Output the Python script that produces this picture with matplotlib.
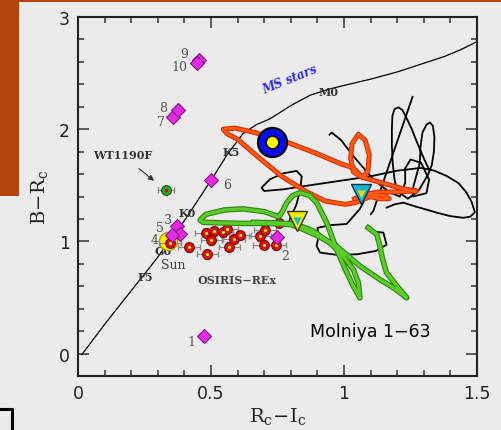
import matplotlib
matplotlib.use("Agg")
import matplotlib.pyplot as plt
import matplotlib.patheffects as pe
from matplotlib.patches import Rectangle
from matplotlib.lines import Line2D
from matplotlib.ticker import MultipleLocator

plt.rcParams["mathtext.fontset"] = "dejavuserif"

# ---------------- data ----------------
ms_x = [0.014, 0.10, 0.20, 0.254, 0.30, 0.333, 0.37, 0.41, 0.46, 0.51, 0.56, 0.62, 0.67, 0.72, 0.80, 0.87, 0.94, 1.00, 1.10, 1.20, 1.29, 1.38, 1.44, 1.50]
ms_y = [-0.01, 0.26, 0.56, 0.72, 0.86, 0.97, 1.08, 1.22, 1.40, 1.58, 1.77, 1.96, 2.04, 2.09, 2.21, 2.30, 2.355, 2.39, 2.446, 2.51, 2.58, 2.65, 2.71, 2.78]

spec_labels = ["F5", "G0", "K0", "K5", "M0"]
spec_x = [0.254, 0.321, 0.412, 0.575, 0.941]
spec_y = [0.69, 0.92, 1.256, 1.80, 2.34]

diam_x = [0.475, 0.747, 0.373, 0.383, 0.352, 0.499, 0.358, 0.375, 0.455, 0.446]
diam_y = [0.155, 1.042, 1.137, 1.063, 1.054, 1.545, 2.110, 2.173, 2.616, 2.589]
diam_labels = ["1", "2", "3", "4", "5", "6", "7", "8", "9", "10"]
diam_lab_x = [0.427, 0.778, 0.340, 0.289, 0.308, 0.559, 0.312, 0.321, 0.400, 0.383]
diam_lab_y = [0.110, 0.870, 1.196, 1.020, 1.120, 1.509, 2.065, 2.190, 2.675, 2.556]

osiris_x = [0.346, 0.417, 0.480, 0.511, 0.501, 0.486, 0.544, 0.561, 0.569, 0.586, 0.609, 0.684, 0.703, 0.699, 0.743, 0.757]
osiris_y = [0.988, 0.949, 1.078, 1.089, 1.012, 0.884, 1.080, 1.113, 0.953, 1.024, 1.056, 1.047, 1.101, 0.971, 0.964, 1.167]

sun_x, sun_y = [0.340], [1.003]
wt_x, wt_y = [0.330], [1.455]
blue_x, blue_y = [0.728], [1.887]
tri_yellow_x, tri_yellow_y = [0.822], [1.18]
tri_cyan_x, tri_cyan_y = [1.063], [1.426]

green_x = [1.091, 1.123, 1.135, 1.145, 1.16, 1.20, 1.236, 1.19, 1.135, 1.06, 0.972, 0.90, 0.847, 0.80, 0.72, 0.62, 0.534, 0.47, 0.459,
           0.48, 0.55, 0.62, 0.70, 0.755, 0.766, 0.785, 0.808, 0.835, 0.87, 0.897, 0.935, 0.972, 1.005, 1.035, 1.06,
           1.054, 1.035, 0.997, 0.947, 0.885, 0.822, 0.75, 0.66]
green_y = [1.122, 1.063, 0.958, 0.84, 0.72, 0.60, 0.497, 0.58, 0.66, 0.78, 0.958, 1.05, 1.107, 1.15, 1.16, 1.16, 1.165, 1.17, 1.19,
           1.24, 1.28, 1.29, 1.265, 1.22, 1.256, 1.345, 1.41, 1.434, 1.41, 1.345, 1.167, 0.93, 0.75, 0.60, 0.497,
           0.631, 0.75, 0.869, 0.988, 1.092, 1.152, 1.165, 1.17]

orange_x = [1.04, 1.08, 1.13, 1.18, 1.23, 1.273, 1.22, 1.16, 1.10, 1.06, 1.035, 1.025, 1.03, 1.054, 1.08, 1.095, 1.09, 1.07, 1.035,
            0.99, 0.89, 0.79, 0.665, 0.59, 0.546, 0.56, 0.60, 0.678, 0.766, 0.853, 0.929, 1.004, 1.041, 1.073, 1.11, 1.15, 1.17, 1.13, 1.10]
orange_y = [1.38, 1.42, 1.44, 1.44, 1.445, 1.449, 1.47, 1.51, 1.55, 1.58, 1.62, 1.74, 1.87, 1.955, 1.90, 1.77, 1.63, 1.57, 1.655,
            1.69, 1.79, 1.88, 1.97, 2.01, 2.00, 1.96, 1.91, 1.75, 1.58, 1.45, 1.36, 1.33, 1.345, 1.375, 1.41, 1.41, 1.38, 1.38, 1.40]

black1_x = [1.085, 1.06, 1.01, 0.95, 0.90, 0.905, 0.897, 0.91, 0.972, 1.05, 1.12, 1.16, 1.148, 1.10]
black1_y = [1.405, 1.29, 1.155, 1.145, 1.12, 1.05, 0.96, 0.90, 0.88, 0.885, 0.915, 0.97, 1.078, 1.09]
black2_x = [0.79, 0.80, 0.82, 0.835, 0.841, 0.822, 0.772, 0.722, 0.69, 0.70, 0.772, 0.897, 1.00, 1.10, 1.20, 1.29, 1.34, 1.386, 1.43,
            1.461, 1.48, 1.492, 1.475, 1.449, 1.40, 1.349, 1.30, 1.27, 1.223, 1.19, 1.16]
black2_y = [1.15, 1.22, 1.32, 1.45, 1.58, 1.628, 1.607, 1.554, 1.479, 1.449, 1.464, 1.509, 1.545, 1.58, 1.63, 1.655, 1.63, 1.583, 1.52,
            1.434, 1.35, 1.26, 1.22, 1.21, 1.225, 1.256, 1.29, 1.31, 1.345, 1.33, 1.30]
black3_x = [0.945, 0.954, 0.99, 1.035, 1.11, 1.173, 1.21, 1.23, 1.23, 1.25, 1.29, 1.32, 1.31, 1.26, 1.26,
            1.285, 1.288, 1.295, 1.31, 1.323, 1.334, 1.34, 1.338, 1.33, 1.317, 1.28, 1.24, 1.20,
            1.19, 1.183, 1.18, 1.18, 1.182, 1.19, 1.205, 1.22, 1.235, 1.255, 1.275, 1.30, 1.32]
black3_y = [1.95, 1.97, 1.90, 1.76, 1.554, 1.434, 1.40, 1.52, 1.65, 1.73, 1.70, 1.55, 1.43, 1.40, 1.48,
            1.70, 1.85, 1.97, 2.04, 2.06, 2.03, 1.93, 1.80, 1.68, 1.60, 1.45, 1.38, 1.45,
            1.55, 1.70, 1.85, 2.00, 2.12, 2.18, 2.195, 2.17, 2.10, 2.00, 1.88, 1.74, 1.64]
black4_x = [1.258, 1.11, 1.10]
black4_y = [2.29, 1.27, 1.24]

# ---------------- figure ----------------
BG = "#ebebeb"
fig = plt.figure(figsize=(5.02, 4.31), dpi=100, facecolor=BG)
ax = fig.add_axes([78 / 502, 1 - 377 / 431, 399 / 502, 359 / 431], facecolor=BG)

# decorations outside the plot
fig.patches.append(Rectangle((0, 1 - 197 / 431), 19 / 502, 197 / 431, transform=fig.transFigure,
                             facecolor="#b4460c", edgecolor="none", zorder=0))
fig.patches.append(Rectangle((0, 1 - 2.5 / 431), 1, 2.5 / 431, transform=fig.transFigure,
                             facecolor="#b4460c", edgecolor="none", zorder=0))
fig.lines.append(Line2D([0, 12 / 502, 12 / 502], [1 - 410 / 431, 1 - 410 / 431, 0], transform=fig.transFigure,
                        color="black", lw=2.2))

ax.set_xlim(0, 1.5)
ax.set_ylim(-0.2, 3.0)

# MS line
ax.plot(ms_x, ms_y, color="black", lw=0.9, zorder=2)
for t, x, y in zip(spec_labels, spec_x, spec_y):
    ax.text(x, y, t, fontsize=8, family="DejaVu Serif", fontweight="bold", color="#333333",
            ha="center", va="center", zorder=2.5)
ax.text(0.797, 2.446, "MS stars", fontsize=8.5, family="DejaVu Serif", fontweight="bold", style="italic",
        color="#2a2aff", rotation=22, ha="center", va="center")

# scribble curves
for bx, by in [(black1_x, black1_y), (black2_x, black2_y), (black3_x, black3_y), (black4_x, black4_y)]:
    ax.plot(bx, by, color="black", lw=1.3, zorder=3, solid_joinstyle="round", solid_capstyle="round")

ax.plot(orange_x, orange_y, color="#ff5a14", lw=2.0, zorder=4, solid_joinstyle="round",
        path_effects=[pe.Stroke(linewidth=3.6, foreground="#e02a00"), pe.Normal()])
ax.plot(green_x, green_y, color="#5ccc2a", lw=2.3, zorder=5, solid_joinstyle="round",
        path_effects=[pe.Stroke(linewidth=4.0, foreground="#2f8a14"), pe.Normal()])

# Sun
ax.plot(sun_x, sun_y, "o", ms=13, mfc="#ffee00", mec="#b0a000", mew=1.0, zorder=4.2)
ax.text(0.358, 0.795, "Sun", fontsize=9, family="DejaVu Serif", color="#444444", ha="center", va="center")

# OSIRIS-REx
ax.errorbar(osiris_x, osiris_y, xerr=0.04, yerr=0.04, fmt="none", ecolor="#8a8a8a", elinewidth=0.8, capsize=2, zorder=4.3)
ax.plot(osiris_x, osiris_y, "o", ms=7, mfc="#dd1010", mec="#7a0000", mew=0.8, ls="none", zorder=4.4)
ax.plot(osiris_x, osiris_y, "o", ms=2.2, mfc="#f0f020", mec="none", ls="none", zorder=4.41)
ax.text(0.597, 0.66, "OSIRIS\u2212REx", fontsize=8, family="DejaVu Serif", fontweight="bold", color="#444444",
        ha="center", va="center")

# diamonds
ax.errorbar(diam_x, diam_y, xerr=0.012, yerr=0.03, fmt="none", ecolor="#8a8a8a", elinewidth=0.8, capsize=1.5, zorder=4.45)
ax.plot(diam_x, diam_y, "D", ms=7, mfc="#e22ce2", mec="#8a108a", mew=0.8, ls="none", zorder=4.5)
for t, x, y in zip(diam_labels, diam_lab_x, diam_lab_y):
    ax.text(x, y, t, fontsize=9, family="DejaVu Serif", color="#555555", ha="center", va="center")

# WT1190F
ax.errorbar(wt_x, wt_y, xerr=0.03, fmt="none", ecolor="#8a8a8a", elinewidth=0.8, capsize=2, zorder=4)
ax.plot(wt_x, wt_y, "o", ms=7, mfc="#22aa22", mec="#115511", mew=0.8, zorder=4.5)
ax.plot(wt_x, wt_y, "o", ms=2.5, mfc="#dd0000", mec="none", zorder=4.6)
ax.annotate("WT1190F", xy=(0.286, 1.54), xytext=(0.167, 1.77), fontsize=8, family="DejaVu Serif",
            fontweight="bold", color="#333333", ha="center", va="center",
            arrowprops=dict(arrowstyle="-|>", color="#333333", lw=0.8, mutation_scale=8, shrinkA=6, shrinkB=0))

# big blue circle and triangles
ax.plot(blue_x, blue_y, "o", ms=21, mfc="#0a0aee", mec="black", mew=1.5, zorder=6)
ax.plot(blue_x, blue_y, "o", ms=9, mfc="#ffff00", mec="black", mew=1.0, zorder=6.1)
ax.plot(tri_yellow_x, tri_yellow_y, "v", ms=14, mfc="#f5ea00", mec="#333300", mew=1.0, zorder=6)
ax.plot(tri_yellow_x, tri_yellow_y, "v", ms=6, mfc="#19b4d4", mec="none", zorder=6.1)
ax.plot(tri_cyan_x, tri_cyan_y, "v", ms=14, mfc="#19b4d4", mec="#003344", mew=1.0, zorder=6)
ax.plot(tri_cyan_x, tri_cyan_y, "v", ms=6, mfc="#e8d800", mec="none", zorder=6.1)

ax.text(1.098, 0.205, "Molniya 1\u221263", fontsize=12.5, family="DejaVu Sans", color="black",
        ha="center", va="center")

# axes styling
ax.xaxis.set_minor_locator(MultipleLocator(0.1))
ax.yaxis.set_minor_locator(MultipleLocator(0.2))
ax.set_xticks([0, 0.5, 1, 1.5])
ax.set_xticklabels(["0", "0.5", "1", "1.5"])
ax.set_yticks([0, 1, 2, 3])
ax.set_yticklabels(["0", "1", "2", "3"])
ax.tick_params(which="both", direction="in", top=True, right=True, color="#333333", width=1.1)
ax.tick_params(which="major", length=8, labelsize=12.5, pad=6, labelcolor="#222222")
ax.tick_params(which="minor", length=4.5)
for s in ax.spines.values():
    s.set_linewidth(1.5)
    s.set_color("#222222")
ax.set_xlabel(r"$\mathrm{R_c\!-\!I_c}$", fontsize=14, labelpad=2, color="#222222")
ax.set_ylabel(r"$\mathrm{B\!-\!R_c}$", fontsize=14, labelpad=6, color="#222222")

fig.savefig("out.png", dpi=100, facecolor=BG)
